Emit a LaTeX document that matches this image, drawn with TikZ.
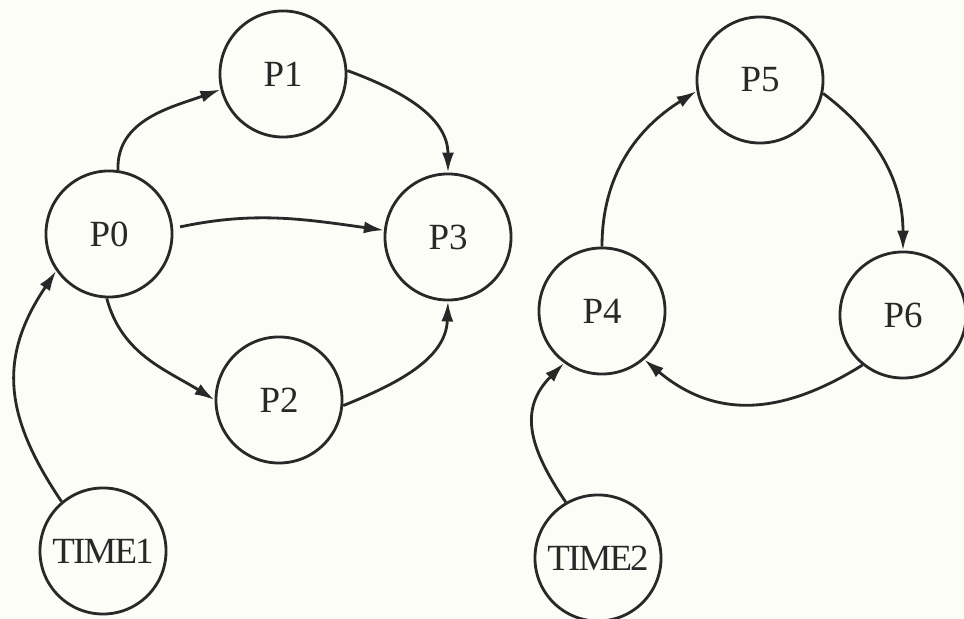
\documentclass[tikz,border=0pt]{standalone}
\usepackage{fontspec}
\setmainfont{Liberation Serif}
\usetikzlibrary{arrows.meta}
\definecolor{papercream}{RGB}{253,253,247}
\definecolor{inkgrey}{RGB}{40,40,40}
\begin{document}
\begin{tikzpicture}[x=0.01cm,y=0.01cm,line width=0.8pt,draw=inkgrey,
  proc/.style={draw,circle,minimum size=1.26cm,inner sep=0pt,text=inkgrey,font=\fontsize{10.5}{12}\selectfont},
  clock/.style={proc,font=\fontsize{10.5}{12}\selectfont\addfontfeature{LetterSpace=-5}},
  flow/.style={draw=inkgrey,-{Latex[length=2mm,width=1.2mm]}}]
\fill[papercream] (0,0) rectangle (964,619);
\useasboundingbox (0,0) rectangle (964,619);
% left graph
\node[proc] (p0) at (109,385) {P0}; \node[proc] (p1) at (283,545) {P1};
\node[proc] (p2) at (279,219) {P2}; \node[proc] (p3) at (448,382) {P3};
\node[clock] (time1) at (103,68) {TIME1};
% right graph
\node[proc] (p4) at (602,308) {P4}; \node[proc] (p5) at (760,539) {P5};
\node[proc] (p6) at (903,304) {P6}; \node[clock] (time2) at (598,61) {TIME2};

\draw[flow] (p0.82) to[out=92,in=200] (p1.194);
\draw[flow] (p1.3) to[out=-20,in=90] (p3.north);
\draw[flow,shorten <=2pt] (p0.5) to[out=12,in=172] (p3.174);
\draw[flow] (p0.268) to[out=-75,in=148] (p2.west);
\draw[flow] (p2.-5) to[out=22,in=-92] (p3.south);
\draw[flow] (time1.130) to[out=124,in=236,looseness=1.15] (p0.215);

\draw[flow] (p4.north) to[out=90,in=212] (p5.190);
\draw[flow] (p5.-12) to[out=-37,in=90] (p6.north);
\draw[flow] (p6.231) to[out=212,in=-40,looseness=1.1] (p4.-49);
\draw[flow] (time2.120) to[out=124,in=225,looseness=1.2] (p4.234);
\end{tikzpicture}
\end{document}
